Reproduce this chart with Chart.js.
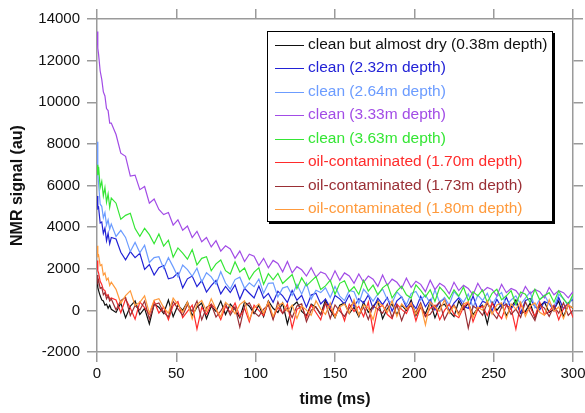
<!DOCTYPE html>
<html>
<head>
<meta charset="utf-8">
<script src="https://cdn.jsdelivr.net/npm/chart.js@4.4.0/dist/chart.umd.min.js"></script>
<style>
  html, body { margin: 0; padding: 0; background: #fff; }
  #wrap { width: 585px; height: 413px; position: relative; }
</style>
</head>
<body>
<div id="wrap"><canvas id="nmr"></canvas></div>
<script>
// sample times (ms), shared by every trace
const timeMs = [0,0.5,1,2,3,4,5,6,7,8,9,
  12,15,18,21,24,27,30,33,36,39,42,45,48,51,54,57,60,63,66,69,72,75,78,81,84,87,90,93,96,99,
  102,105,108,111,114,117,120,123,126,129,132,135,138,141,144,147,150,153,156,159,162,165,168,171,174,177,180,183,186,189,
  192,195,198,201,204,207,210,213,216,219,222,225,228,231,234,237,240,243,246,249,252,255,258,261,264,267,270,273,276,279,
  282,285,288,291,294,297,300];

const seriesNames = [
  'clean but almost dry (0.38m depth)',
  'clean (2.32m depth)',
  'clean (2.64m depth)',
  'clean (3.33m depth)',
  'clean (3.63m depth)',
  'oil-contaminated (1.70m depth)',
  'oil-contaminated (1.73m depth)',
  'oil-contaminated (1.80m depth)'
];

const dry038 = [1500,1100,950,700,500,450,250,300,100,250,50,
  -100,350,-350,200,450,-200,100,-650,300,150,
  -150,500,-300,250,0,400,-250,150,350,-400,
  200,-50,450,-200,300,50,-350,400,200,-150,
  250,-300,450,100,-100,350,-650,200,400,-50,
  -250,300,150,-200,500,0,-350,250,350,-150,
  150,-300,400,-100,200,450,-400,100,300,-200,
  250,0,500,-250,150,-150,400,-350,200,300,
  -50,-300,450,50,350,-200,100,250,-650,400,
  0,300,-250,150,500,-150,-50,350,-350,200,
  400,-100,50,450,-300,250,100];

const clean232 = [5500,4900,4950,4200,4250,3700,3950,3350,3700,3200,3500,
  3430,2795,2430,2825,2530,2745,1970,2205,1700,2050,
  2155,1515,1580,1805,1080,1515,1650,1140,1435,880,
  1185,1435,790,1150,860,1225,535,1055,825,595,
  1165,590,815,390,915,695,375,955,485,720,
  155,735,820,305,545,130,717,555,295,735,
  175,565,355,747,90,582,275,618,-38,456,
  650,145,390,85,680,176,522,18,414,561,
  -42,355,602,199,97,694,42,440,338,-14,
  534,132,631,79,378,-124,475,574,173,22,
  421,320,-31,618,67,366,515];

const clean264 = [8100,6500,6100,5100,5000,4450,4700,4100,4350,3900,4150,
  3550,3845,3505,2825,3265,2770,3130,2300,2535,2575,
  2025,2530,2090,1610,2180,1960,1640,2025,1365,1810,
  1610,1260,1860,1315,1025,1480,1595,1060,1320,1140,
  1505,825,1300,1320,645,1070,1145,720,1250,780,
  1310,540,970,855,1085,620,1150,685,470,955,
  895,330,1015,755,445,785,1025,515,355,895,
  635,275,815,905,500,740,335,980,370,615,
  260,905,650,395,790,135,730,475,820,265,
  662,858,205,500,697,294,590,887,134,532,
  729,327,175,773,571,219,667];

const clean333 = [13400,12600,12300,11500,11100,10500,10300,9700,9600,9000,9000,
  8450,7550,7400,6450,6500,5800,5950,5150,5350,4850,
  4600,4700,4100,4350,3850,4050,3500,3800,3300,3500,
  3050,3350,2850,3100,2950,2500,2850,2350,2700,2600,
  2150,2500,2050,2400,2250,1850,2350,1800,2100,1950,
  1650,2050,1600,1850,1750,1400,1900,1450,1800,1650,
  1300,1750,1350,1650,1500,1150,1700,1200,1500,1350,
  1050,1550,1100,1400,1250,900,1450,1000,1300,1150,
  800,1350,950,1200,1050,750,1300,900,1100,1000,
  700,1250,850,1050,950,650,1150,800,1000,900,
  600,1100,750,950,850,600,900];

const clean363 = [7000,6500,6900,5900,6200,5500,5900,5200,5600,4950,5400,
  5150,4375,4565,4665,3930,3555,3945,3640,3200,3665,
  3090,3370,2555,3000,2750,2460,2920,2185,2500,2580,
  1905,2235,2420,1910,1750,2340,1840,2035,1485,1840,
  2045,1250,1760,1470,1780,1295,1510,1725,1045,1560,
  1180,1405,1625,1000,1175,1450,775,1300,1425,905,
  1135,765,1445,930,1210,745,1080,1260,595,930,
  1165,750,590,1225,965,650,990,430,1120,860,
  550,990,680,1120,460,900,695,985,380,820,
  1015,505,700,945,285,880,775,370,1015,510,
  705,850,395,940,535,280,775];

const oil170 = [2400,1900,1800,1400,1250,1000,950,700,750,550,600,
  500,-115,542,109,-420,404,131,-190,442,-124,
  162,-451,238,428,-350,-50,250,-900,150,-200,
  300,50,-450,200,-100,350,-300,100,-550,250,
  0,-250,400,-400,150,-150,300,-850,50,200,
  -350,250,-100,-450,350,100,-250,150,-500,300,
  -50,200,-300,400,-1000,100,250,-200,-400,300,
  50,-150,350,-500,200,-300,100,250,-450,0,
  300,-200,-350,150,400,-550,50,200,-250,350,
  -100,-400,250,100,-900,300,-150,150,-300,400,
  -200,-50,250,-450,100,300,-350];

const oil173 = [1700,1350,1450,1050,1100,750,850,550,700,450,550,
  30,470,633,-251,230,13,447,-417,270,359,
  -101,-311,431,73,-234,260,-46,450,-455,140,
  285,-320,-22,325,-228,170,-800,216,365,-87,
  -290,60,260,-440,410,-140,110,-340,210,310,
  -540,10,160,-190,360,-390,260,-40,-290,110,
  410,-240,160,-440,210,60,-140,310,-340,260,
  -490,110,210,-90,360,-290,-190,160,410,-440,
  10,260,-140,310,-850,210,60,-240,360,-90,
  -390,160,310,-190,60,-340,410,-90,-490,260,
  110,-290,210,-140,360,-240,10];

const oil180 = [3100,2600,2650,2150,2200,1700,1800,1450,1550,1200,1350,
  1010,340,707,941,237,390,701,-133,487,560,
  136,-135,597,280,-85,402,-409,280,471,-37,
  556,50,-306,389,185,-169,277,460,-440,110,
  310,-140,410,-290,210,360,-40,260,-390,210,
  10,-240,460,60,-190,360,-340,160,310,-140,
  510,-240,260,110,-440,410,210,-90,460,-290,
  310,60,360,-190,260,-700,410,160,-40,510,
  -140,210,-240,310,410,-340,160,10,460,-190,
  260,360,-390,310,60,410,-290,210,360,-90,
  -240,510,-40,160,-390,260,110];

const seriesValues = [dry038, clean232, clean264, clean333, clean363, oil170, oil173, oil180];
const seriesColors = ['#111111', '#2222d6', '#6c9cff', '#a24ce6', '#35e635', '#ff2b2b', '#9a2f35', '#ff9a3c'];

const xTicks = { min: 0, max: 300, step: 50 };
const yTicks = { min: -2000, max: 14000, step: 2000 };

(function() {
  const fontFamily = '"Liberation Sans", Arial, sans-serif';
  const axisGray = '#9a9a9a';

  // legend drawn as a framed box inside the plot, text coloured like its trace
  const boxLegend = {
    id: 'boxLegend',
    afterDatasetsDraw(chart) {
      const ctx = chart.ctx;
      const ca = chart.chartArea;
      const x0 = ca.left + 170, y0 = ca.top + 12;
      const w = 286, h = 191;
      ctx.save();
      ctx.fillStyle = '#000';
      ctx.fillRect(x0 + 2, y0 + 2, w, h);
      ctx.fillStyle = '#fff';
      ctx.fillRect(x0, y0, w, h);
      ctx.strokeStyle = '#000';
      ctx.lineWidth = 1;
      ctx.strokeRect(x0 + 0.5, y0 + 0.5, w - 1, h - 1);
      ctx.font = '15.5px ' + fontFamily;
      ctx.textBaseline = 'middle';
      ctx.textAlign = 'left';
      seriesNames.forEach((name, i) => {
        const y = y0 + 13.5 + i * 23.5;
        ctx.strokeStyle = seriesColors[i];
        ctx.lineWidth = 1;
        ctx.beginPath();
        ctx.moveTo(x0 + 8, Math.round(y) + 0.5);
        ctx.lineTo(x0 + 37, Math.round(y) + 0.5);
        ctx.stroke();
        ctx.fillStyle = seriesColors[i];
        ctx.fillText(name, x0 + 41, y);
      });
      ctx.restore();
    }
  };

  const gridOpts = { drawOnChartArea: false, drawTicks: true, tickLength: 10, color: axisGray, lineWidth: 1.5 };
  const borderOpts = { display: true, color: axisGray, width: 1.5 };
  const tickFont = { family: fontFamily, size: 15 };
  const titleFont = { family: fontFamily, size: 16, weight: 'bold' };
  const plainNumber = v => String(v);

  const datasets = seriesValues.map((vals, i) => ({
    label: seriesNames[i],
    data: timeMs.map((t, k) => ({ x: t, y: vals[k] })),
    borderColor: seriesColors[i],
    backgroundColor: seriesColors[i],
    borderWidth: 1.2,
    pointRadius: 0,
    tension: 0,
    fill: false,
    order: seriesValues.length - 1 - i
  }));

  new Chart(document.getElementById('nmr'), {
    type: 'line',
    data: { datasets },
    options: {
      responsive: true,
      maintainAspectRatio: false,
      animation: false,
      devicePixelRatio: 1,
      layout: { padding: 0 },
      plugins: { legend: { display: false }, tooltip: { enabled: false } },
      scales: {
        x: {
          type: 'linear', position: 'bottom',
          min: xTicks.min, max: xTicks.max,
          ticks: { stepSize: xTicks.step, color: '#111', font: tickFont, padding: 3, maxRotation: 0, callback: plainNumber },
          grid: gridOpts, border: borderOpts,
          title: { display: true, text: 'time (ms)', color: '#111', font: titleFont, padding: { top: 0, bottom: 4 } },
          afterFit(s) { s.height = 61; s.paddingLeft = 0; s.paddingRight = 0; }
        },
        x2: {
          type: 'linear', position: 'top',
          min: xTicks.min, max: xTicks.max,
          ticks: { stepSize: xTicks.step, display: false },
          grid: gridOpts, border: borderOpts,
          afterFit(s) { s.height = 19; s.paddingLeft = 0; s.paddingRight = 0; }
        },
        y: {
          type: 'linear', position: 'left',
          min: yTicks.min, max: yTicks.max,
          ticks: { stepSize: yTicks.step, color: '#111', font: tickFont, padding: 7, callback: plainNumber },
          grid: gridOpts, border: borderOpts,
          title: { display: true, text: 'NMR signal (au)', color: '#111', font: titleFont, padding: { top: 8, bottom: 0 } },
          afterFit(s) { s.width = 97; s.paddingTop = 0; s.paddingBottom = 0; }
        },
        y2: {
          type: 'linear', position: 'right',
          min: yTicks.min, max: yTicks.max,
          ticks: { stepSize: yTicks.step, display: false },
          grid: gridOpts, border: borderOpts,
          afterFit(s) { s.width = 12; s.paddingTop = 0; s.paddingBottom = 0; }
        }
      }
    },
    plugins: [boxLegend]
  });
})();
</script>
</body>
</html>
